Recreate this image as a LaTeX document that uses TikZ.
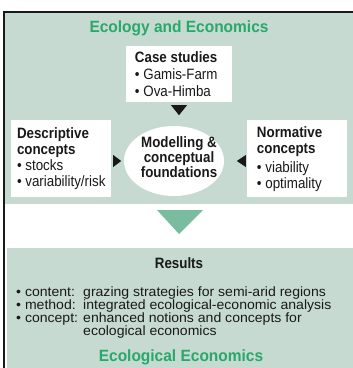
\documentclass[tikz,border=0pt]{standalone}
\usepackage{fontspec}
\setmainfont{Liberation Sans}
\newfontfamily\lowfont{Liberation Sans}[FakeStretch=1.04]
\newfontfamily\upfont{Liberation Sans}[FakeStretch=0.89]
\newfontfamily\titlefont{Liberation Sans}[FakeStretch=0.95]
\usetikzlibrary{shapes.geometric,calc}
\definecolor{panel}{RGB}{198,218,210}
\definecolor{titlegreen}{RGB}{40,168,105}
\definecolor{arrowgreen}{RGB}{122,188,160}
\definecolor{ink}{RGB}{25,25,25}
\begin{document}
\begin{tikzpicture}[x=1pt,y=-1pt,
  whitebox/.style={draw=none,fill=white,inner sep=0pt,minimum width=100pt,minimum height=77pt},
  boxtext/.style={inner sep=0pt,align=left,text=ink,font=\upfont\fontsize{15}{16}\selectfont},
  titletext/.style={inner sep=0pt,text=titlegreen,font=\titlefont\fontsize{16.3}{18}\selectfont\bfseries},
  lowtext/.style={inner sep=0pt,anchor=base west,text=ink,font=\lowfont\fontsize{13.5}{13}\selectfont},
  tip/.style={fill=ink}]
\useasboundingbox (0,0) rectangle (353,368);
% panels and frame
\fill[panel] (5,13) rectangle (353,204);
\fill[panel] (7,248) rectangle (353,368);
\draw[line width=1.5pt,ink] (4,368) -- (4,12) -- (353,12);
% title
\node[titletext] (top) at (179,28) {Ecology and Economics};
% case studies
\node[whitebox,minimum width=106pt,minimum height=56pt] (case) at (179,74) {};
\node[boxtext,anchor=west,font=\upfont\fontsize{15}{17}\selectfont] (casetext) at ([xshift=9pt]case.west)
  {\textbf{Case studies}\\• Gamis-Farm\\• Ova-Himba};
% descriptive
\node[whitebox] (desc) at (61,158.5) {};
\node[boxtext,anchor=west] (desctext) at ([xshift=6pt]desc.west)
  {\textbf{Descriptive}\\\textbf{concepts}\\• stocks\\• variability/risk};
% normative
\node[whitebox] (norm) at (297,158.5) {};
\node[boxtext,anchor=west] (normtext) at ([xshift=10pt,yshift=-1pt]norm.west)
  {\textbf{Normative}\\\textbf{concepts}\\[3pt]• viability\\• optimality};
% centre ellipse
\node[ellipse,fill=white,draw=none,inner sep=0pt,minimum width=100pt,minimum height=70pt] (model) at (174,161) {};
\node[boxtext,align=center,font=\upfont\fontsize{15}{15}\selectfont\bfseries] (modeltext) at (179,157)
  {Modelling \&\\conceptual\\foundations};
% small arrow tips
\fill[tip] ($(case.south)+(-8,3)$) -- ($(case.south)+(8,3)$) -- ($(case.south)+(0,13)$) -- cycle;
\fill[tip] ($(desc.east)+(2,-3.5)$) -- ($(desc.east)+(2,8.5)$) -- ($(desc.east)+(10,2.5)$) -- cycle;
\fill[tip] ($(norm.west)+(-1,-3.5)$) -- ($(norm.west)+(-1,8.5)$) -- ($(norm.west)+(-10,2.5)$) -- cycle;
% big green arrow
\fill[arrowgreen] (157,210) -- (203,210) -- (179,234) -- cycle;
% results
\node[inner sep=0pt,anchor=base,text=ink,font=\upfont\fontsize{15}{16}\selectfont\bfseries] (results) at (179,268) {Results};
\node[lowtext] (l1) at (16,296) {• content:};
\node[lowtext] (v1) at (83,296) {grazing strategies for semi-arid regions};
\node[lowtext] (l2) at (16,309) {• method:};
\node[lowtext] (v2) at (83,309) {integrated ecological-economic analysis};
\node[lowtext] (l3) at (16,322) {• concept:};
\node[lowtext] (v3) at (83,322) {enhanced notions and concepts for};
\node[lowtext] (v4) at (83,335) {ecological economics};
\node[titletext] (bottom) at (181,357) {Ecological Economics};
\end{tikzpicture}
\end{document}
